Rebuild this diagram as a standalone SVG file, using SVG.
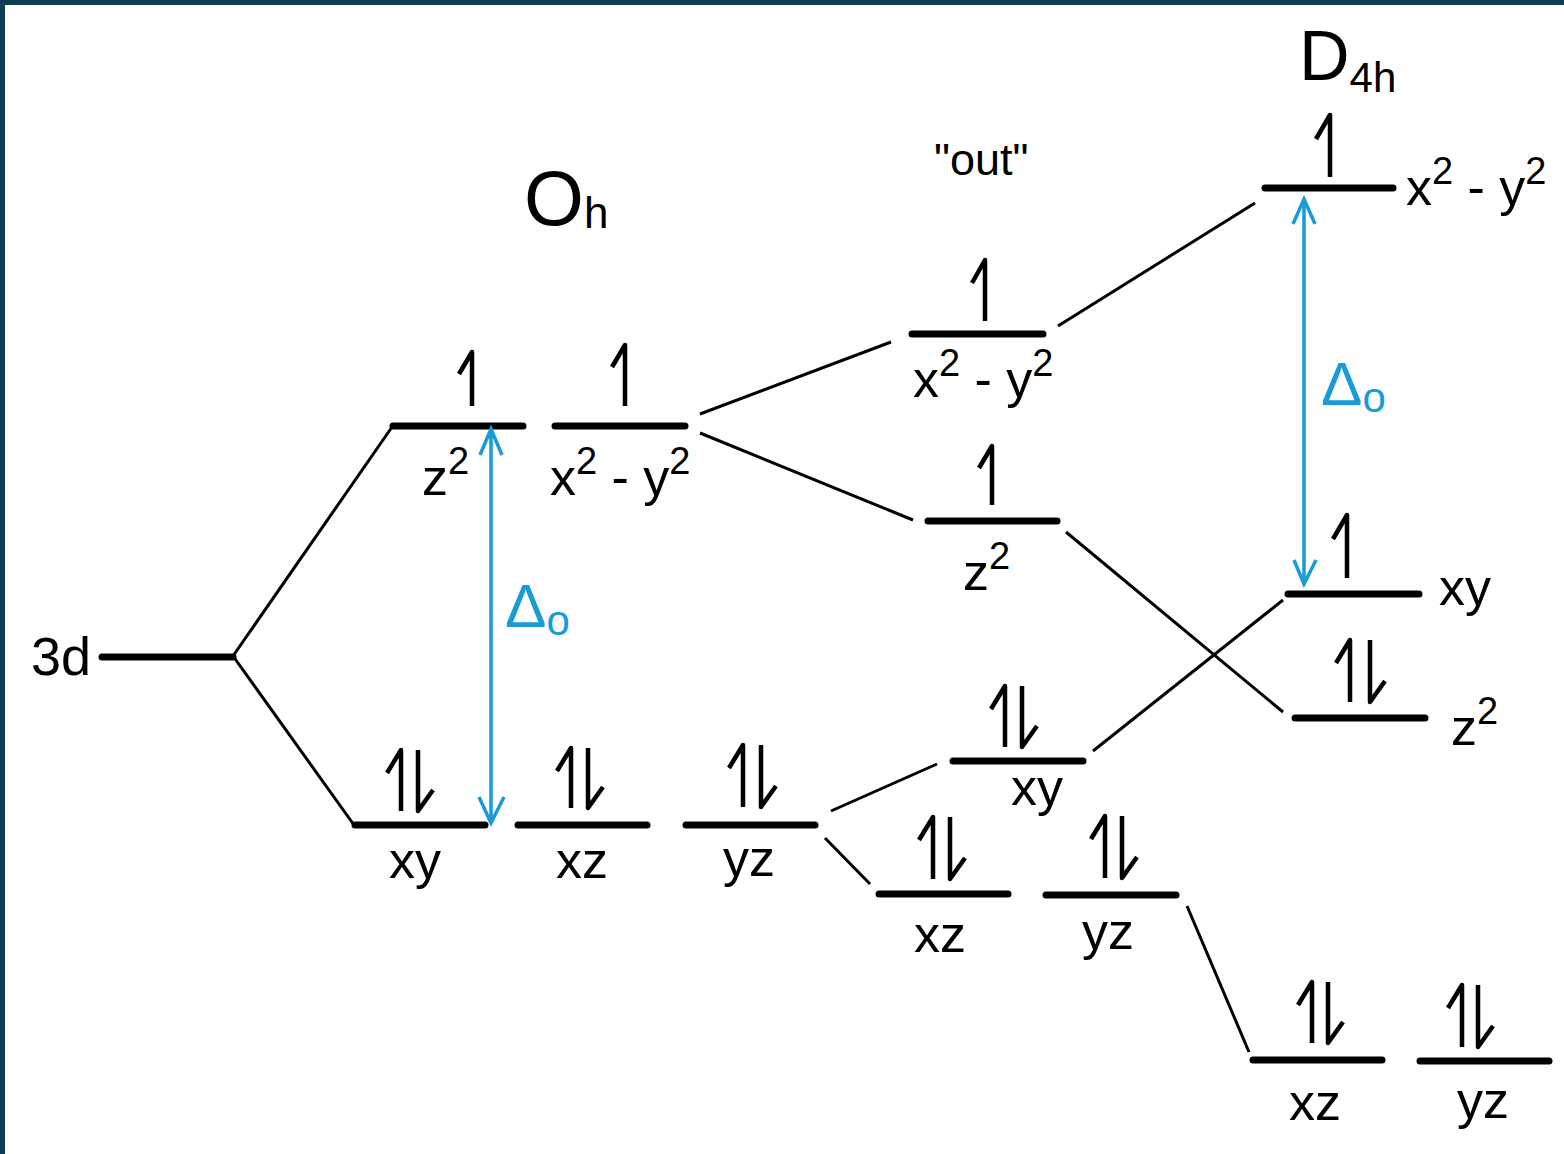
<svg xmlns="http://www.w3.org/2000/svg" width="1564" height="1154" viewBox="0 0 1564 1154">
<style>
.lvl{stroke:#000;stroke-width:7;stroke-linecap:round;fill:none}
.con{stroke:#000;stroke-width:3;fill:none}
.e{stroke:#000;stroke-width:4.5;fill:none;stroke-linejoin:round;stroke-linecap:butt}
.d{stroke:#1b9ad8;stroke-width:3.5;fill:none}
text{font-family:"Liberation Sans",Arial,sans-serif;fill:#000}
.lb{font-size:52px}
.sup{font-size:38px}
.bl{fill:#1b9ad8}
</style>
<rect x="0" y="0" width="1564" height="1154" fill="#fff"/>
<rect x="0" y="0" width="1564" height="5" fill="#0e3c54"/>
<rect x="0" y="0" width="5" height="1154" fill="#0e3c54"/>

<g id="titles">
<text x="524" y="225" font-size="77">O<tspan font-size="44" dy="3">h</tspan></text>
<text x="1299" y="80" font-size="70">D<tspan font-size="42" dy="12">4h</tspan></text>
<text x="934" y="175" font-size="45">"out"</text>
</g>

<g id="connectors">
<path class="con" d="M233,656 L392,427"/>
<path class="con" d="M233,656 L354,825"/>
<path class="con" d="M700,414 L891,342"/>
<path class="con" d="M700,433 L913,520"/>
<path class="con" d="M1058,326 L1255,203"/>
<path class="con" d="M1066,532 L1283,712"/>
<path class="con" d="M831,811 L937,764"/>
<path class="con" d="M825,838 L870,884"/>
<path class="con" d="M1093,751 L1283,600"/>
<path class="con" d="M1187,906 L1249,1052"/>
</g>

<g id="n-3d">
<path class="lvl" d="M102,657 H233"/>
<text x="31" y="675" font-size="54">3d</text>
</g>

<g id="oh-z2">
<path class="lvl" d="M393,426 H523"/>
<path class="e" d="M472,406 V352 l-13,22"/>
<text class="lb" x="422" y="495">z<tspan class="sup" dy="-21">2</tspan></text>
</g>
<g id="oh-x2y2">
<path class="lvl" d="M555,426 H685"/>
<path class="e" d="M625,406 V345 l-13,22"/>
<text class="lb" x="550" y="495">x<tspan class="sup" dy="-21">2</tspan><tspan dy="21"> - y</tspan><tspan class="sup" dy="-21">2</tspan></text>
</g>
<g id="oh-xy">
<path class="lvl" d="M355,825 H485"/>
<path class="e" d="M401,811 V750 l-14,23 M418,750 V811 l15,-21"/>
<text class="lb" x="389" y="878">xy</text>
</g>
<g id="oh-xz">
<path class="lvl" d="M518,825 H647"/>
<path class="e" d="M571,808 V748 l-14,23 M588,748 V808 l15,-21"/>
<text class="lb" x="556" y="878">xz</text>
</g>
<g id="oh-yz">
<path class="lvl" d="M686,825 H815"/>
<path class="e" d="M743,807 V745 l-14,23 M761,745 V807 l15,-21"/>
<text class="lb" x="723" y="876">yz</text>
</g>

<g id="out-x2y2">
<path class="lvl" d="M912,334 H1043"/>
<path class="e" d="M985,321 V260 l-13,23"/>
<text class="lb" x="913" y="397">x<tspan class="sup" dy="-21">2</tspan><tspan dy="21"> - y</tspan><tspan class="sup" dy="-21">2</tspan></text>
</g>
<g id="out-z2">
<path class="lvl" d="M928,521 H1057"/>
<path class="e" d="M992,505 V446 l-13,22"/>
<text class="lb" x="963" y="590">z<tspan class="sup" dy="-21">2</tspan></text>
</g>
<g id="out-xy">
<path class="lvl" d="M953,761 H1083"/>
<path class="e" d="M1005,747 V686 l-14,23 M1022,686 V747 l15,-21"/>
<text class="lb" x="1011" y="805">xy</text>
</g>
<g id="out-xz">
<path class="lvl" d="M879,894 H1008"/>
<path class="e" d="M933,879 V817 l-14,23 M950,817 V879 l15,-21"/>
<text class="lb" x="914" y="952">xz</text>
</g>
<g id="out-yz">
<path class="lvl" d="M1046,895 H1176"/>
<path class="e" d="M1105,878 V816 l-14,23 M1122,816 V878 l15,-21"/>
<text class="lb" x="1082" y="949">yz</text>
</g>

<g id="d4h-x2y2">
<path class="lvl" d="M1265,188 H1393"/>
<path class="e" d="M1330,177 V115 l-14,24"/>
<text class="lb" x="1406" y="205">x<tspan class="sup" dy="-21">2</tspan><tspan dy="21"> - y</tspan><tspan class="sup" dy="-21">2</tspan></text>
</g>
<g id="d4h-xy">
<path class="lvl" d="M1288,594 H1419"/>
<path class="e" d="M1347,578 V515 l-14,24"/>
<text class="lb" x="1439" y="605">xy</text>
</g>
<g id="d4h-z2">
<path class="lvl" d="M1295,718 H1425"/>
<path class="e" d="M1350,702 V640 l-14,23 M1370,640 V702 l15,-21"/>
<text class="lb" x="1451" y="745">z<tspan class="sup" dy="-21">2</tspan></text>
</g>
<g id="d4h-xz">
<path class="lvl" d="M1253,1060 H1382"/>
<path class="e" d="M1312,1043 V982 l-14,23 M1328,982 V1043 l15,-21"/>
<text class="lb" x="1289" y="1120">xz</text>
</g>
<g id="d4h-yz">
<path class="lvl" d="M1420,1061 H1549"/>
<path class="e" d="M1462,1047 V985 l-14,23 M1478,985 V1047 l15,-21"/>
<text class="lb" x="1457" y="1118">yz</text>
</g>

<g id="delta-oh">
<path class="d" d="M491,429 V823 M480,455 L491,429 L502,455 M479,797 L491,823 L504,797"/>
<text class="bl" x="505" y="627" font-size="62">Δ<tspan font-size="42" dy="8">o</tspan></text>
</g>
<g id="delta-d4h">
<path class="d" d="M1304,199 V584 M1293,224 L1304,199 L1315,224 M1294,560 L1304,584 L1316,560"/>
<text class="bl" x="1321" y="405" font-size="62">Δ<tspan font-size="42" dy="7">o</tspan></text>
</g>
</svg>
